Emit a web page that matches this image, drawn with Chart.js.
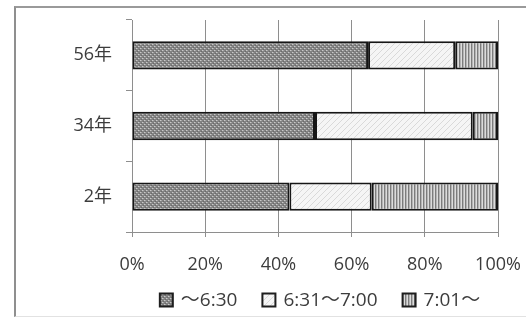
<!DOCTYPE html>
<html>
<head>
<meta charset="utf-8">
<script src="https://cdn.jsdelivr.net/npm/chart.js@4/dist/chart.umd.min.js"></script>
<style>
  html, body { margin: 0; padding: 0; background: #fff; }
  #wrap { position: relative; width: 526px; height: 328px; overflow: hidden; }
  #frame {
    position: absolute; left: 14px; top: 6px; width: 530px; height: 311px;
    border-left: 2px solid #8f8f8f; border-top: 2px solid #9a9a9a;
    border-bottom: 1px solid #e2e2e2; box-sizing: border-box;
  }
  canvas { position: absolute; left: 0; top: 0; }
</style>
</head>
<body>
<div id="wrap">
  <div id="frame"></div>
  <canvas id="c" width="526" height="328"></canvas>
</div>
<script>
// Survey years (top to bottom) and share of respondents per time band (%)
const categories = ['56年', '34年', '2年'];
const seriesNames = ['〜6:30', '6:31〜7:00', '7:01〜'];
const early  = [64.5, 50.0, 43.0];   // 〜6:30
const middle = [23.8, 43.1, 22.5];   // 6:31〜7:00
const late   = [11.7, 6.9, 34.5];    // 7:01〜
const tickValues = [0, 20, 40, 60, 80, 100];

// Small tiled fills for the three bands
function makePattern(w, h, paint) {
  const c = document.createElement('canvas');
  c.width = w; c.height = h;
  const g = c.getContext('2d');
  paint(g);
  return document.getElementById('c').getContext('2d').createPattern(c, 'repeat');
}
const dotted = makePattern(4, 4, g => {
  g.fillStyle = '#828282'; g.fillRect(0, 0, 4, 4);
  g.fillStyle = '#c9c9c9'; g.fillRect(0, 0, 1, 1); g.fillRect(2, 2, 1, 1);
  g.fillStyle = '#a6a6a6'; g.fillRect(1, 0, 1, 1); g.fillRect(3, 2, 1, 1);
  g.fillStyle = '#6a6a6a'; g.fillRect(1, 3, 1, 1); g.fillRect(3, 1, 1, 1);
});
const hatched = makePattern(6, 6, g => {
  g.fillStyle = '#f5f5f5'; g.fillRect(0, 0, 6, 6);
  g.fillStyle = '#d9d9d9';
  for (let i = 0; i < 6; i++) g.fillRect(i, 5 - i, 1, 1);
});
const striped = makePattern(3, 1, g => {
  g.fillStyle = '#7c7c7c'; g.fillRect(0, 0, 1, 1);
  g.fillStyle = '#b4b4b4'; g.fillRect(1, 0, 1, 1);
  g.fillStyle = '#dcdcdc'; g.fillRect(2, 0, 1, 1);
});
const fills = [dotted, hatched, striped];

const textColor = '#3c3c3c';
const gridColor = '#8e8e8e';

// Legend row drawn under the axis labels
const legendRow = {
  id: 'legendRow',
  afterDraw(chart) {
    const ctx = chart.ctx;
    const area = chart.chartArea;
    ctx.save();
    ctx.font = '19px "Open Sans", "Noto Sans CJK JP", sans-serif';
    ctx.textBaseline = 'middle';
    const box = 13, gapText = 8, gapItem = 25;
    const widths = seriesNames.map(n => box + gapText + ctx.measureText(n).width);
    const total = widths.reduce((a, b) => a + b, 0) + gapItem * (widths.length - 1);
    let x = (area.left + area.right) / 2 - total / 2 + 5;
    const y = 300;
    seriesNames.forEach((name, i) => {
      ctx.fillStyle = fills[i];
      ctx.fillRect(x, y - box / 2, box, box);
      ctx.strokeStyle = '#1e1e1e';
      ctx.lineWidth = 2;
      ctx.strokeRect(x, y - box / 2, box, box);
      ctx.fillStyle = textColor;
      ctx.fillText(name, x + box + gapText, y + 1);
      x += widths[i] + gapItem;
    });
    ctx.restore();
  }
};

function series(label, data, fill) {
  return {
    label, data,
    backgroundColor: fill,
    borderColor: '#161616',
    borderWidth: 2,
    borderSkipped: false,
    categoryPercentage: 1,
    barPercentage: 0.4
  };
}

// Keep the plot box fixed regardless of label overflow
function noOverflow(scale) {
  scale.paddingLeft = 0; scale.paddingRight = 0;
  scale.paddingTop = 0; scale.paddingBottom = 0;
}

new Chart(document.getElementById('c'), {
  type: 'bar',
  data: {
    labels: categories,
    datasets: [
      series(seriesNames[0], early, dotted),
      series(seriesNames[1], middle, hatched),
      series(seriesNames[2], late, striped)
    ]
  },
  options: {
    indexAxis: 'y',
    responsive: false,
    animation: false,
    layout: { padding: { top: 20, right: 28, left: 0, bottom: 0 } },
    plugins: { legend: { display: false }, tooltip: { enabled: false } },
    scales: {
      x: {
        stacked: true,
        min: 0, max: 100,
        afterBuildTicks(scale) { scale.ticks = tickValues.map(v => ({ value: v })); },
        afterFit(scale) { scale.height = 96; noOverflow(scale); },
        ticks: {
          callback: v => v + '%',
          color: textColor,
          padding: 17,
          maxRotation: 0,
          font: { family: '"Open Sans", sans-serif', size: 18 }
        },
        grid: { color: gridColor, lineWidth: 1, tickLength: 5, drawOnChartArea: true },
        border: { color: gridColor, width: 1 }
      },
      y: {
        stacked: true,
        afterFit(scale) { scale.width = 132; noOverflow(scale); },
        ticks: {
          color: textColor,
          padding: 14,
          font: { family: '"Open Sans", "Noto Sans CJK JP", sans-serif', size: 18 }
        },
        grid: { offset: true, drawOnChartArea: false, tickLength: 6, color: gridColor },
        border: { color: gridColor, width: 1 }
      }
    }
  },
  plugins: [legendRow]
});
</script>
</body>
</html>
